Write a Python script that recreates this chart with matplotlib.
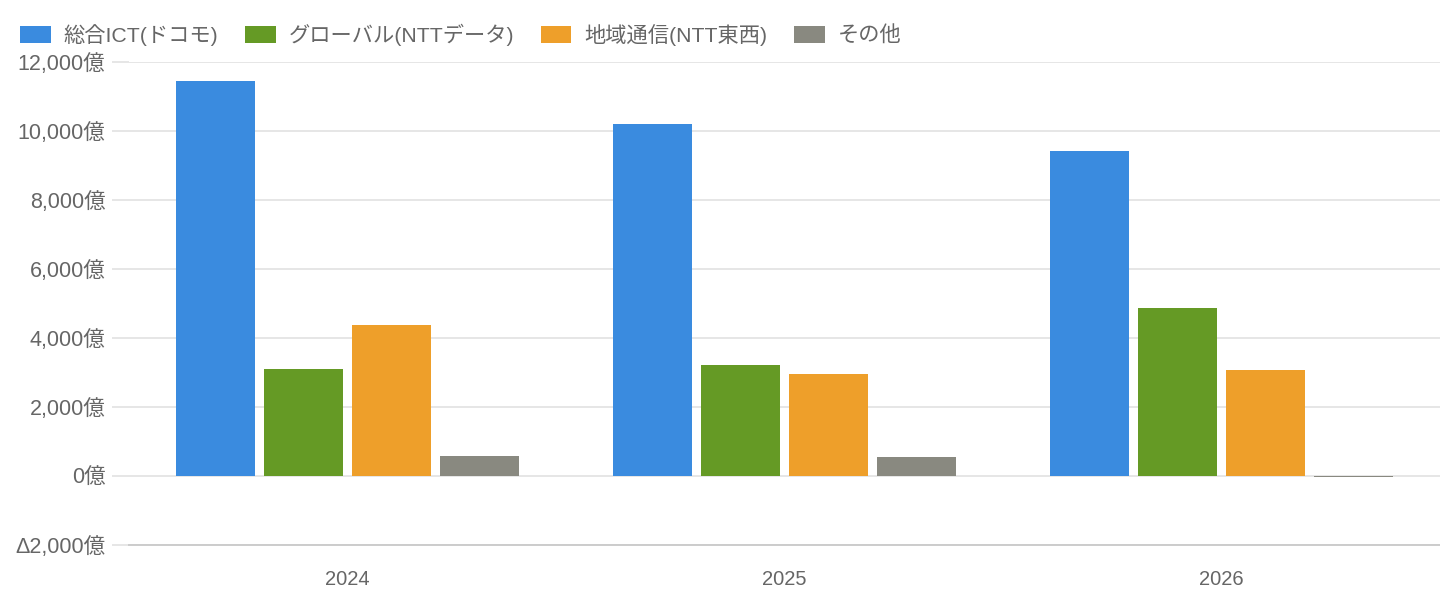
import numpy as np
import matplotlib
matplotlib.use("Agg")
from matplotlib import pyplot as plt
from matplotlib.ticker import FuncFormatter

plt.rcParams['font.family'] = ['Liberation Sans', 'Noto Sans CJK JP', 'DejaVu Sans']

years = ["2024", "2025", "2026"]
series_names = ["総合ICT(ドコモ)", "グローバル(NTTデータ)", "地域通信(NTT東西)", "その他"]
docomo = [11450, 10200, 9420]
global_data = [3100, 3220, 4880]
regional = [4380, 2950, 3070]
other = [580, 540, -30]
colors = ["#3a8bdf", "#659a25", "#ee9f2a", "#898980"]

TEXT = "#666666"
GRID = "#e6e6e6"


def yen_fmt(v, _pos):
    if v < 0:
        return "\u0394{:,.0f}億".format(-v)
    return "{:,.0f}億".format(v)


fig = plt.figure(figsize=(14.4, 6), dpi=100)
ax = fig.add_axes([129 / 1440, 55 / 600, 1 - 129 / 1440, 483 / 600])

x = np.arange(len(years))
pitch = 0.201
width = 0.18
all_series = [docomo, global_data, regional, other]
for i, (vals, name, c) in enumerate(zip(all_series, series_names, colors)):
    ax.bar(x + (i - 1.5) * pitch, vals, width, color=c, label=name, zorder=3)

ax.set_xlim(-0.5, len(years) - 0.5)
ax.set_ylim(-2000, 12000)
ax.set_yticks(np.arange(-2000, 12001, 2000))
ax.yaxis.set_major_formatter(FuncFormatter(yen_fmt))
ax.set_xticks(x)
ax.set_xticklabels(years)

ax.grid(axis='y', color=GRID, linewidth=1.4, zorder=0)
for s in ["top", "right", "left"]:
    ax.spines[s].set_visible(False)
ax.spines["bottom"].set_color("#cccccc")
ax.spines["bottom"].set_linewidth(1.4)
ax.spines["bottom"].set_zorder(4)

ax.tick_params(axis='y', length=12, width=1.4, color=GRID, pad=5,
               labelsize=15.5, labelcolor=TEXT)
ax.tick_params(axis='x', length=0, pad=18, labelsize=14.5, labelcolor=TEXT)

fig.legend(loc="upper left", bbox_to_anchor=(0.008, 0.975), ncol=4,
           frameon=False, fontsize=15.3, labelcolor=TEXT,
           handlelength=1.45, handleheight=0.8, handletextpad=0.6,
           columnspacing=1.25, borderaxespad=0)

fig.savefig("out.png", dpi=100)
